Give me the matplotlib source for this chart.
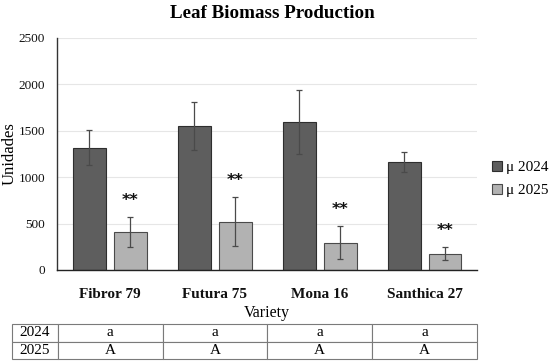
import matplotlib
matplotlib.use("Agg")
import matplotlib.pyplot as plt
import numpy as np

categories = ["Fibror 79", "Futura 75", "Mona 16", "Santhica 27"]
mean_2024 = [1318, 1552, 1598, 1164]
err_2024 = [187, 260, 345, 105]
mean_2025 = [406, 521, 294, 176]
err_2025 = [160, 264, 180, 72]
sig_2025 = ["**", "**", "**", "**"]
table_rows = ["2024", "2025"]
letters_2024 = ["a", "a", "a", "a"]
letters_2025 = ["A", "A", "A", "A"]
yticks = [0, 500, 1000, 1500, 2000, 2500]

SERIF = ["Liberation Serif", "DejaVu Serif"]
plt.rcParams['font.family'] = SERIF

fig = plt.figure(figsize=(5.5, 3.63), dpi=100)
ax = fig.add_axes([57.5/550, 93/363, 419.5/550, 232/363])

x = np.arange(len(categories))
w = 0.314
off = 0.195
ek = dict(ecolor="#4a4a4a", elinewidth=0.9, capsize=2.2, capthick=0.9)
ax.bar(x - off, mean_2024, w, yerr=err_2024, color="#5e5e5e", edgecolor="#2e2e2e",
       linewidth=0.8, error_kw=ek, label="μ 2024", zorder=2)
ax.bar(x + off, mean_2025, w, yerr=err_2025, color="#b2b2b2", edgecolor="#4a4a4a",
       linewidth=0.8, error_kw=ek, label="μ 2025", zorder=2)

for xi, m, e, s in zip(x, mean_2025, err_2025, sig_2025):
    ax.annotate(s, (xi + off, m + e), xytext=(0, 12), textcoords="offset points",
                ha="center", va="center", fontsize=11.5, fontweight="bold",
                family=["DejaVu Sans"], color="#111111")

ax.set_xlim(-0.5, len(categories) - 0.5)
ax.set_ylim(0, 2500)
ax.set_yticks(yticks)
ax.set_yticklabels([str(t) for t in yticks], fontsize=9.5)
ax.set_xticks(x)
ax.set_xticklabels(categories, fontsize=11, fontweight="bold")
ax.tick_params(axis="both", length=0, colors="#111111")
ax.tick_params(axis="x", pad=13)
ax.tick_params(axis="y", pad=9)
ax.grid(axis="y", color="#e6e6e6", linewidth=0.8, zorder=0)
ax.set_axisbelow(True)
for sp in ["top", "right"]:
    ax.spines[sp].set_visible(False)
ax.spines["left"].set_color("#333333")
ax.spines["bottom"].set_color("#222222")
ax.spines["left"].set_linewidth(1.0)
ax.spines["bottom"].set_linewidth(1.0)

ax.set_ylabel("Unidades", fontsize=12)
ax.yaxis.set_label_coords((18 - 57.5) / 419.5, 0.5)
ax.set_xlabel("Variety", fontsize=11.5, labelpad=3)
fig.text(272 / 550, 0.963, "Leaf Biomass Production", ha="center", va="center",
         fontsize=13.7, fontweight="bold")

leg = ax.legend(loc="center left", bbox_to_anchor=(1.035, 0.392), frameon=False,
                fontsize=11, handlelength=0.65, handleheight=0.65,
                handletextpad=0.3, labelspacing=0.6, borderpad=0, borderaxespad=0)

cell_text = [letters_2024, letters_2025]
full = [[r] + row for r, row in zip(table_rows, cell_text)]
tw = 477 - 11.7
cw = [46.3 / tw] + [105 / tw] * 4
tbl = ax.table(cellText=full, colWidths=cw, cellLoc="center",
               bbox=[(11.7 - 57.5) / 419.5, (270 - 359) / 232, tw / 419.5, 35 / 232])
tbl.auto_set_font_size(False)
tbl.set_fontsize(11)
for (r, c), cell in tbl.get_celld().items():
    cell.set_edgecolor("#7a7a7a")
    cell.set_linewidth(0.8)

fig.savefig("out.png", dpi=100)
